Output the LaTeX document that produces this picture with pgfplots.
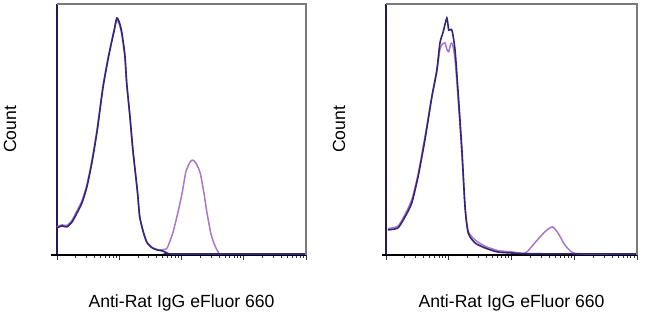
\documentclass[border=0pt]{standalone}
\usepackage{pgfplots}
\pgfplotsset{compat=1.18}
\usepackage{fontspec}
\setmainfont{Liberation Sans}
\definecolor{navy}{HTML}{33257A}
\definecolor{pinkv}{HTML}{A878C8}
\definecolor{frame}{HTML}{7A7A7A}

\pgfplotstableread{
x y
0 10.8
0.08 11.6
0.16 11.2
0.24 13.1
0.32 16.7
0.40 20.7
0.48 27.1
0.56 36.7
0.64 48.6
0.69 57.8
0.74 66.9
0.80 75.3
0.85 81.7
0.92 89.6
0.96 94.4
1.00 92.8
1.04 88.8
1.09 79.7
1.12 68.5
1.17 55.8
1.22 41.8
1.29 25.9
1.33 15.1
1.40 8.0
1.45 4.8
1.53 2.8
1.61 2.0
1.70 1.6
1.77 0.8
1.90 0.4
4.00 0.4
}\leftnavy

\pgfplotstableread{
x y
0 11.2
0.08 12.0
0.16 11.8
0.24 13.8
0.32 17.5
0.40 21.5
0.48 28.0
0.56 37.5
0.64 49.5
0.69 58.5
0.74 67.5
0.80 76.0
0.85 82.0
0.92 90.0
0.96 93.5
1.00 92.0
1.04 88.0
1.09 79.0
1.12 68.0
1.17 55.0
1.22 41.0
1.29 25.5
1.33 15.0
1.40 8.0
1.45 4.8
1.53 3.0
1.61 2.2
1.67 2.0
1.72 2.2
1.77 2.8
1.86 8.8
1.94 16.7
2.01 24.7
2.07 33.1
2.14 37.1
2.18 37.8
2.23 36.7
2.30 32.7
2.36 24.7
2.41 16.7
2.47 8.8
2.52 4.8
2.59 1.2
2.70 0.4
4.00 0.4
}\leftpink

\pgfplotstableread{
x y
0.03 10.0
0.19 10.8
0.30 15.1
0.41 20.7
0.51 31.1
0.62 45.8
0.73 62.9
0.81 73.7
0.86 84.5
0.91 88.8
0.97 94.4
1.00 89.6
1.05 89.6
1.10 81.7
1.15 64.5
1.21 41.8
1.26 19.1
1.31 8.8
1.42 4.8
1.58 2.8
1.78 1.2
2.01 0.8
2.30 0.5
4.00 0.4
}\rightnavy

\pgfplotstableread{
x y
0.03 10.5
0.19 11.5
0.30 16.0
0.41 22.0
0.51 32.0
0.62 47.0
0.73 63.0
0.81 73.0
0.86 82.0
0.90 84.0
0.94 84.5
0.97 82.0
1.00 81.0
1.03 84.0
1.06 84.0
1.10 78.0
1.15 62.0
1.21 40.0
1.26 19.0
1.31 9.5
1.42 6.0
1.58 3.5
1.78 1.8
2.01 1.2
2.22 0.8
2.37 4.8
2.53 9.2
2.65 11.2
2.74 8.8
2.85 4.0
2.96 1.2
3.10 0.5
4.00 0.4
}\rightpink

\pgfplotsset{
  flow/.style={
    scale only axis,
    width=249bp, height=251bp,
    xmin=0, xmax=4, ymin=0, ymax=100,
    axis x line=bottom, axis y line=left,
    x axis line style={-, black, line width=1.3bp},
    y axis line style={-, navy!70!black, line width=1.8bp},
    ytick=\empty,
    xtick={0,1,2,3,4},
    minor xtick={0.301,0.477,0.602,0.699,0.778,0.845,0.903,0.954,
                 1.301,1.477,1.602,1.699,1.778,1.845,1.903,1.954,
                 2.301,2.477,2.602,2.699,2.778,2.845,2.903,2.954,
                 3.301,3.477,3.602,3.699,3.778,3.845,3.903,3.954},
    xticklabels={},
    tick align=outside,
    major tick length=5bp, minor tick length=3bp,
    every tick/.style={black!80, line width=0.9bp},
    xlabel={Anti-Rat IgG eFluor 660},
    label style={font=\fontsize{17.6bp}{19bp}\selectfont},
    xlabel style={at={(axis description cs:0.5,0)}, anchor=base, yshift=-52bp},
    clip=false,
  }
}

\begin{document}
\begin{tikzpicture}
\useasboundingbox (0,0) rectangle (650bp,314bp);
\begin{axis}[flow, at={(57bp,59bp)}, anchor=south west]
  \addplot[pinkv, line width=1.5bp, smooth, tension=0.4] table {\leftpink};
  \addplot[navy, line width=1.6bp, smooth, tension=0.4] table {\leftnavy};
  \draw[frame, line width=1.2bp] (rel axis cs:0,1) -- (rel axis cs:1,1) -- (rel axis cs:1,0);
  \draw[black, line width=1.3bp] (rel axis cs:0,0) -- ++(-6bp,0);
  \node[rotate=90, font=\fontsize{17.6bp}{19bp}\selectfont] at ([xshift=-47bp]rel axis cs:0,0.5) {Count};
\end{axis}
\begin{axis}[flow, at={(386bp,59bp)}, anchor=south west, width=251bp]
  \addplot[pinkv, line width=1.5bp, smooth, tension=0.4] table {\rightpink};
  \addplot[navy, line width=1.6bp, smooth, tension=0.4] table {\rightnavy};
  \draw[frame, line width=1.2bp] (rel axis cs:0,1) -- (rel axis cs:1,1) -- (rel axis cs:1,0);
  \draw[black, line width=1.3bp] (rel axis cs:0,0) -- ++(-4bp,0);
  \node[rotate=90, font=\fontsize{17.6bp}{19bp}\selectfont] at ([xshift=-47bp]rel axis cs:0,0.5) {Count};
\end{axis}
\end{tikzpicture}
\end{document}
